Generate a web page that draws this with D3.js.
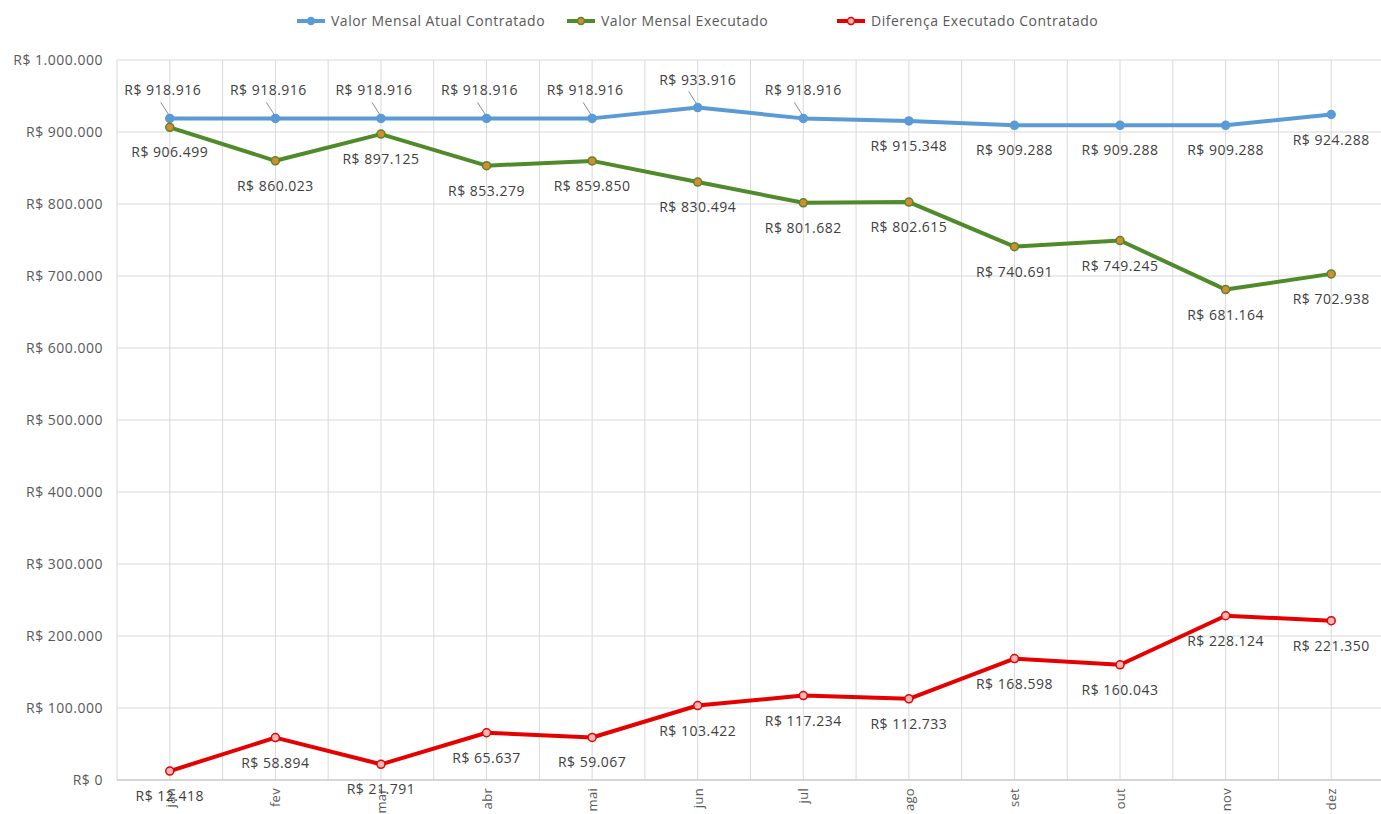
<!DOCTYPE html>
<html>
<head>
    <meta charset="utf-8">
    <style>
        body {
            margin: 0;
            background: white;
            font-family: "Open Sans", "Liberation Sans", Arial, sans-serif;
        }
        svg {
            display: block;
        }
        .grid line {
            stroke: #d9d9d9;
            stroke-width: 1;
        }
        .ylab, .legend text {
            fill: #595959;
            font-size: 14px;
            letter-spacing: 0.5px;
        }
        .xlab {
            fill: #595959;
            font-size: 13px;
            letter-spacing: 0.3px;
        }
        .dlabel {
            fill: #404040;
            font-size: 14px;
            letter-spacing: 0.5px;
        }
    </style>
</head>
<body>
    <svg width="1381" height="814"></svg>

<script src="https://d3js.org/d3.v7.min.js"></script>
<script>
    // months on the x axis
    const months = ["jan", "fev", "mar", "abr", "mai", "jun", "jul", "ago", "set", "out", "nov", "dez"];

    // series values (R$)
    const contratado = [918916, 918916, 918916, 918916, 918916, 933916, 918916, 915348, 909288, 909288, 909288, 924288];
    const executado = [906499, 860023, 897125, 853279, 859850, 830494, 801682, 802615, 740691, 749245, 681164, 702938];
    const diferenca = [12418, 58894, 21791, 65637, 59067, 103422, 117234, 112733, 168598, 160043, 228124, 221350];

    const seriesNames = ["Valor Mensal Atual Contratado", "Valor Mensal Executado", "Diferença Executado Contratado"];
    const yTicks = [0, 100000, 200000, 300000, 400000, 500000, 600000, 700000, 800000, 900000, 1000000];

    // where Excel put each data label (a = above, b = below)
    const placeBlue = ["a", "a", "a", "a", "a", "a", "a", "b", "b", "b", "b", "b"];
    const placeGreen = ["b", "b", "b", "b", "b", "b", "b", "b", "b", "b", "b", "b"];
    const placeRed = ["b", "b", "b", "b", "b", "b", "b", "b", "b", "b", "b", "b"];

    let width = 1381, height = 814;
    let margin = { left: 117, right: -3, top: 60, bottom: 34 };

    let svg = d3.select("svg");

    let x = d3.scaleBand()
        .domain(months)
        .range([margin.left, width - margin.right]);

    let y = d3.scaleLinear()
        .domain([0, 1000000])
        .range([height - margin.bottom, margin.top]);

    let cx = m => x(m) + x.bandwidth() / 2;

    // number formatting pt-BR style
    let fmt = v => "R$ " + d3.format(",")(v).replace(/,/g, ".");

    // gridlines
    let grid = svg.append("g").attr("class", "grid");
    grid.selectAll(".h")
        .data(yTicks)
        .join("line")
        .attr("x1", margin.left)
        .attr("x2", width - margin.right)
        .attr("y1", d => y(d))
        .attr("y2", d => y(d));

    let vlines = [];
    months.forEach(m => { vlines.push(x(m)); vlines.push(cx(m)); });
    vlines.push(x(months[11]) + x.bandwidth());
    grid.selectAll(".v")
        .data(vlines)
        .join("line")
        .attr("x1", d => d)
        .attr("x2", d => d)
        .attr("y1", margin.top)
        .attr("y2", height - margin.bottom);

    svg.append("line")
        .attr("x1", margin.left)
        .attr("x2", width - margin.right)
        .attr("y1", y(0))
        .attr("y2", y(0))
        .style("stroke", "#bfbfbf");

    // y labels
    svg.selectAll(".ylab")
        .data(yTicks)
        .join("text")
        .attr("class", "ylab")
        .attr("x", 103)
        .attr("y", d => y(d) + 5)
        .attr("text-anchor", "end")
        .text(d => d === 0 ? "R$ 0" : fmt(d));

    // x labels, rotated
    svg.selectAll(".xlab")
        .data(months)
        .join("text")
        .attr("class", "xlab")
        .attr("transform", d => `translate(${cx(d) + 5},${y(0) + 8}) rotate(-90)`)
        .attr("text-anchor", "end")
        .text(d => d);

    let line = d3.line()
        .x((d, i) => cx(months[i]))
        .y(d => y(d));

    let series = [
        { vals: contratado, color: "#5b9bd5", fill: "#5b9bd5", place: placeBlue },
        { vals: executado, color: "#4f8a2b", fill: "#d9892f", place: placeGreen },
        { vals: diferenca, color: "#e60000", fill: "#f4b6b6", place: placeRed }
    ];

    // leader lines for the crowded blue labels
    [0, 1, 2, 3, 4, 5, 6].forEach(i => {
        let px = cx(months[i]), py = y(contratado[i]);
        svg.append("line")
            .attr("x1", px - 9)
            .attr("y1", py - 16)
            .attr("x2", px)
            .attr("y2", py - 2)
            .style("stroke", "#8c8c8c")
            .style("stroke-width", 1);
    });

    series.forEach(s => {
        svg.append("path")
            .datum(s.vals)
            .attr("d", line)
            .style("fill", "none")
            .style("stroke", s.color)
            .style("stroke-width", 4)
            .style("stroke-linejoin", "round");

        svg.selectAll(null)
            .data(s.vals)
            .join("circle")
            .attr("cx", (d, i) => cx(months[i]))
            .attr("cy", d => y(d))
            .attr("r", 4)
            .style("fill", s.fill)
            .style("stroke", s.color)
            .style("stroke-width", 1.5);
    });

    series.forEach(s => {
        svg.selectAll(null)
            .data(s.vals)
            .join("text")
            .attr("class", "dlabel")
            .attr("x", (d, i) => cx(months[i]) + (s.place[i] === "a" && i < 5 ? -7 : 0))
            .attr("y", (d, i) => y(d) + (s.place[i] === "a" ? -23 : 30))
            .attr("text-anchor", "middle")
            .text(d => fmt(d));
    });

    // legend
    let legendX = [297, 567, 837];
    let legend = svg.append("g").attr("class", "legend");
    series.forEach((s, i) => {
        let g = legend.append("g").attr("transform", `translate(${legendX[i]},21)`);
        g.append("line")
            .attr("x1", 0).attr("x2", 28)
            .style("stroke", s.color)
            .style("stroke-width", 4);
        g.append("circle")
            .attr("cx", 14).attr("r", 3.5)
            .style("fill", s.fill)
            .style("stroke", s.color)
            .style("stroke-width", 1.5);
        g.append("text")
            .attr("x", 34)
            .attr("y", 5)
            .text(seriesNames[i]);
    });
</script>
</body>
</html>
